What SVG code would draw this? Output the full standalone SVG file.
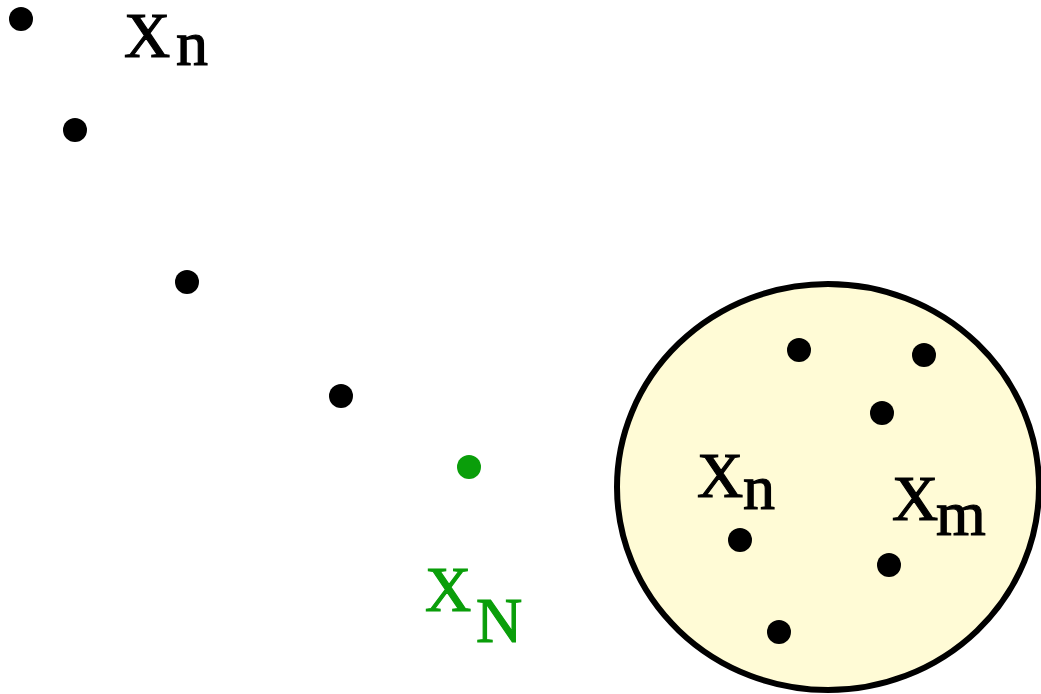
<svg xmlns="http://www.w3.org/2000/svg" width="1041" height="694" viewBox="0 0 1041 694">
<style>
.dot{fill:#000}
.g{fill:#0a9e0a}
.lbl{font-family:"Liberation Serif","Times New Roman",serif;font-size:64px;fill:#000;stroke:#000;stroke-width:1.2}
.lg{fill:#0a9e0a;stroke:#0a9e0a}
</style>
<rect width="1041" height="694" fill="#fff"/>
<g id="region">
<ellipse cx="828" cy="487" rx="211" ry="203" fill="#fffbd6" stroke="#000" stroke-width="6"/>
</g>
<g id="connectors"></g>
<g id="p1"><circle class="dot" cx="21" cy="19" r="12"/></g>
<g id="p2"><circle class="dot" cx="75" cy="130" r="12"/></g>
<g id="p3"><circle class="dot" cx="187" cy="282" r="12"/></g>
<g id="p4"><circle class="dot" cx="341" cy="396" r="12"/></g>
<g id="pN"><circle class="g" cx="469" cy="467" r="12"/></g>
<g id="c1"><circle class="dot" cx="799" cy="350" r="12"/></g>
<g id="c2"><circle class="dot" cx="924" cy="355" r="12"/></g>
<g id="c3"><circle class="dot" cx="882" cy="413" r="12"/></g>
<g id="c4"><circle class="dot" cx="740" cy="540" r="12"/></g>
<g id="c5"><circle class="dot" cx="889" cy="565" r="12"/></g>
<g id="c6"><circle class="dot" cx="779" cy="632" r="12"/></g>
<g id="label-top"><text class="lbl" x="124" y="57">X<tspan x="176" y="65">n</tspan></text></g>
<g id="label-green"><text class="lbl lg" x="425" y="611">X<tspan x="476" y="642">N</tspan></text></g>
<g id="label-xn"><text class="lbl" x="697" y="497">X<tspan x="743" y="509">n</tspan></text></g>
<g id="label-xm"><text class="lbl" x="892" y="520">X<tspan x="936" y="535">m</tspan></text></g>
</svg>
